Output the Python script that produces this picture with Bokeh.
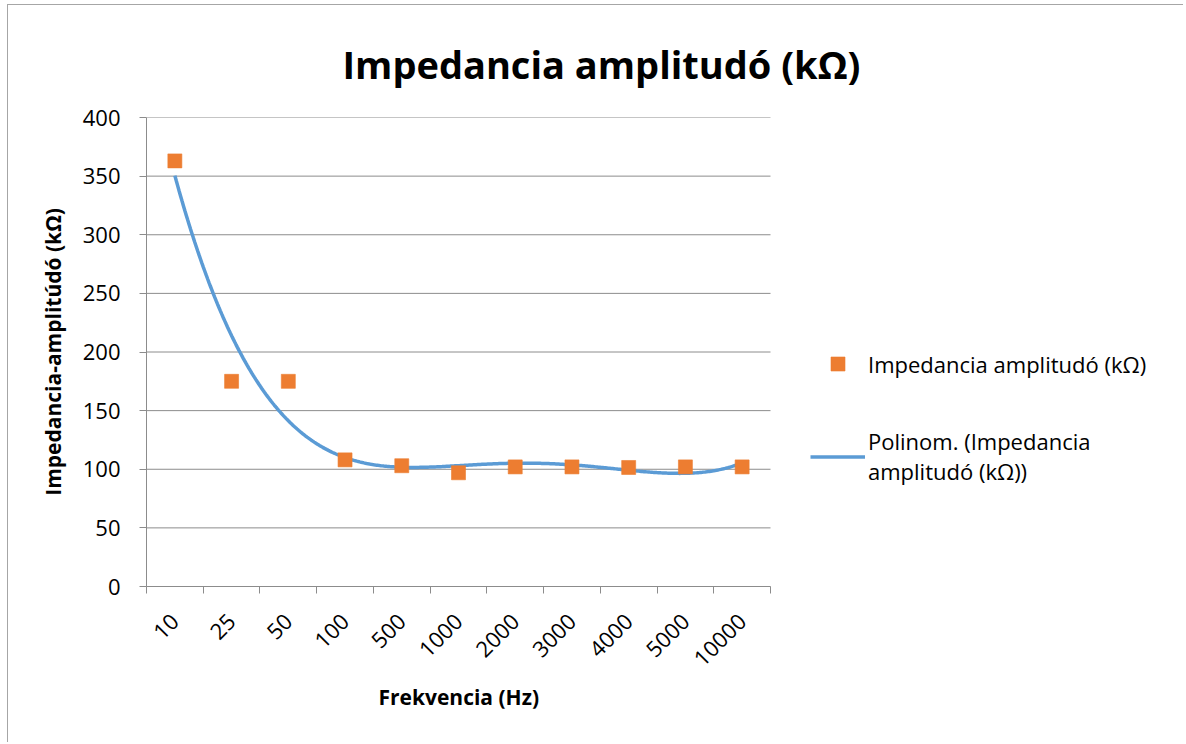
import numpy as np
from bokeh.plotting import figure
from bokeh.models import (ColumnDataSource, FixedTicker, Legend, LegendItem, Range1d, Title)
from bokeh.embed import file_html
from bokeh.resources import INLINE

# ---- data ----
categories = ["10", "25", "50", "100", "500", "1000", "2000", "3000", "4000", "5000", "10000"]
impedance = [363, 175, 175, 108, 103, 97, 102, 102, 101.5, 102, 102]
poly_order = 4

title_text = "Impedancia amplitudó (kΩ)"
series_name = "Impedancia amplitudó (kΩ)"
trend_name = "Polinom. (Impedancia\namplitudó (kΩ))"
x_title = "Frekvencia (Hz)"
y_title = "Impedancia-amplitúdó (kΩ)"
y_ticks = [0, 50, 100, 150, 200, 250, 300, 350, 400]

FONT = "Open Sans"
ORANGE = "#ED7D31"
BLUE = "#5B9BD5"
GRID = "#8c8c8c"

n = len(categories)
xs = list(range(1, n + 1))
fx = np.linspace(xs[0], xs[-1], 400)

# layout (pixels): plot area 624 px wide for the categories, legend area to its right
W, H = 1176, 738
LEFT, TOP, BOTTOM = 138, 112, 157
CAT_AREA = 624
x_end = 0.5 + (W - LEFT) / (CAT_AREA / n)

p = figure(width=W, height=H, output_backend="svg", toolbar_location=None,
           x_range=Range1d(0.5, x_end), y_range=Range1d(0, 400),
           min_border_left=LEFT, min_border_right=0, min_border_top=TOP,
           min_border_bottom=BOTTOM)
p.outline_line_color = None
p.background_fill_color = "white"
p.border_fill_color = "white"
p.styles = {"margin-left": "7px", "margin-top": "4px",
            "border-left": "1px solid #a6a6a6", "border-top": "1px solid #a6a6a6"}

# horizontal gridlines limited to the category area
p.segment(x0=[xs[0] - 0.5] * len(y_ticks), x1=[xs[-1] + 0.5] * len(y_ticks),
          y0=y_ticks, y1=y_ticks, line_color=GRID, line_width=1)

# polynomial trendline (fit of the data) and the data points
coef = np.polyfit(xs, impedance, poly_order)
trend = p.line(fx, np.polyval(coef, fx), line_color=BLUE, line_width=3.5)
src = ColumnDataSource(dict(x=xs, y=impedance))
pts = p.scatter("x", "y", source=src, marker="square", size=14, fill_color=ORANGE,
                line_color=ORANGE, line_alpha=0.6)

# title
p.title.text = title_text
p.title.text_font = FONT
p.title.text_font_size = "38px"
p.title.text_font_style = "bold"
p.title.align = "left"
p.title.offset = 196
p.title.standoff = 55
p.title.text_color = "black"

# x axis
xa = p.xaxis[0]
bounds = [c - 0.5 for c in xs] + [xs[-1] + 0.5]
xa.bounds = (xs[0] - 0.5, xs[-1] + 0.5)
xa.ticker = FixedTicker(ticks=xs, minor_ticks=bounds)
xa.major_label_overrides = {c: lab for c, lab in zip(xs, categories)}
xa.major_tick_line_color = None
xa.minor_tick_line_color = GRID
xa.minor_tick_out = 7
xa.minor_tick_in = 0
xa.axis_line_color = GRID
xa.major_label_orientation = np.pi / 4
xa.major_label_text_font = FONT
xa.major_label_text_font_size = "22px"
xa.major_label_text_color = "black"
xa.major_label_standoff = 24

p.add_layout(Title(text=x_title, align="left", offset=232, standoff=8,
                   text_font=FONT, text_font_size="21px", text_font_style="bold",
                   text_color="black"), "below")

# y axis
ya = p.yaxis[0]
ya.ticker = FixedTicker(ticks=y_ticks)
ya.minor_tick_line_color = None
ya.major_tick_line_color = GRID
ya.major_tick_out = 7
ya.major_tick_in = 0
ya.axis_line_color = GRID
ya.major_label_text_font = FONT
ya.major_label_text_font_size = "22px"
ya.major_label_text_color = "black"
ya.major_label_standoff = 19
ya.axis_label = y_title
ya.axis_label_text_font = FONT
ya.axis_label_text_font_size = "21px"
ya.axis_label_text_font_style = "bold"
ya.axis_label_text_color = "black"
ya.axis_label_standoff = 13

p.xgrid.grid_line_color = None
p.ygrid.grid_line_color = None

# legend inside the (extended) frame, to the right of the category area
lg = Legend(items=[LegendItem(label=series_name, renderers=[pts]),
                   LegendItem(label=trend_name, renderers=[trend])],
            location=(664, 100), orientation="vertical")
lg.glyph_width = 55
lg.glyph_height = 35
lg.label_standoff = 3
lg.label_text_font = FONT
lg.label_text_font_size = "22px"
lg.label_text_color = "black"
lg.padding = 0
lg.margin = 0
lg.spacing = 45
lg.border_line_color = None
lg.background_fill_alpha = 0
p.add_layout(lg)

open("out.html", "w").write(file_html(p, INLINE))
